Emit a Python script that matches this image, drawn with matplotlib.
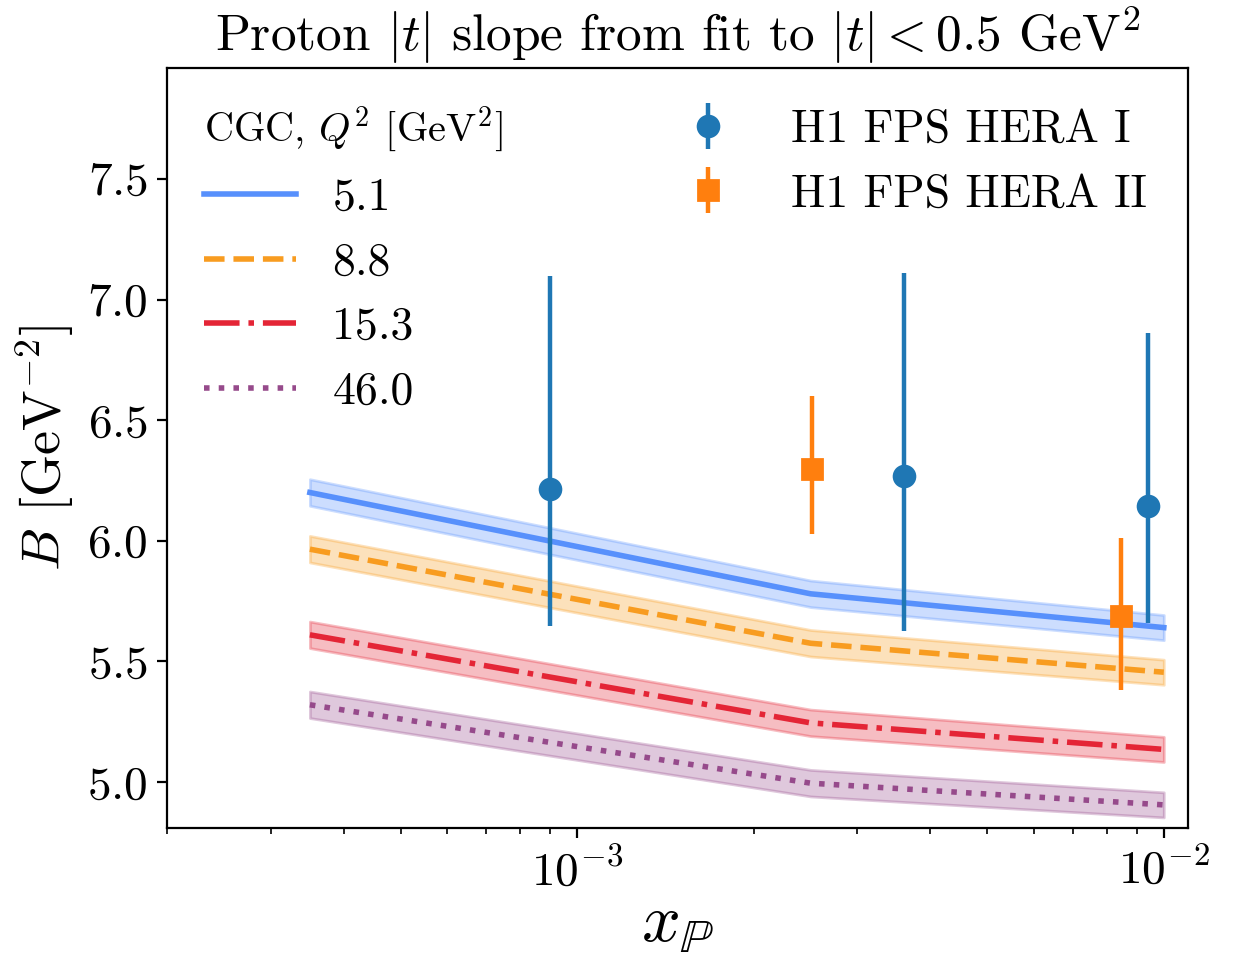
import numpy as np
import matplotlib
matplotlib.use("Agg")
import matplotlib.pyplot as plt

plt.rcParams['font.family'] = 'serif'
plt.rcParams['font.serif'] = ['cmr10']
plt.rcParams['mathtext.fontset'] = 'cm'
plt.rcParams['axes.formatter.use_mathtext'] = True
plt.rcParams['axes.unicode_minus'] = False

# CGC curves: x_P grid and B values for each Q^2
x_cgc = [3.5e-4, 2.5e-3, 1.0e-2]
q2_labels = ['5.1', '8.8', '15.3', '46.0']
B_q2_5p1 = [6.20, 5.78, 5.64]
B_q2_8p8 = [5.965, 5.575, 5.455]
B_q2_15p3 = [5.61, 5.245, 5.135]
B_q2_46p0 = [5.32, 4.995, 4.905]
band_err = [0.055, 0.055, 0.052]

# H1 FPS data
x_hera1 = [9.0e-4, 3.6e-3, 9.4e-3]
B_hera1 = [6.215, 6.267, 6.145]
B_hera1_up = [7.098, 7.108, 6.863]
B_hera1_dn = [5.647, 5.624, 5.660]

x_hera2 = [2.51e-3, 8.47e-3]
B_hera2 = [6.297, 5.686]
B_hera2_up = [6.598, 6.010]
B_hera2_dn = [6.027, 5.380]

colors = ["#5790fc", "#f89c20", "#e42536", "#964a8b"]
styles = ['-', '--', '-.', ':']

fig, ax = plt.subplots(figsize=(6.175, 4.785), dpi=200)
fig.subplots_adjust(left=0.1355, right=0.962, top=0.929, bottom=0.135)

curve_lines = []
for B, lab, c, ls in zip([B_q2_5p1, B_q2_8p8, B_q2_15p3, B_q2_46p0], q2_labels, colors, styles):
    B = np.array(B)
    e = np.array(band_err)
    ax.fill_between(x_cgc, B - e, B + e, color=c, alpha=0.3)
    ln, = ax.plot(x_cgc, B, ls, color=c, lw=2, label=lab)
    curve_lines.append(ln)

h1 = ax.errorbar(x_hera1, B_hera1,
                 yerr=[np.array(B_hera1) - np.array(B_hera1_dn), np.array(B_hera1_up) - np.array(B_hera1)],
                 fmt='o', color='tab:blue', ms=7.5, elinewidth=1.6, capsize=0, label='H1 FPS HERA I')
h2 = ax.errorbar(x_hera2, B_hera2,
                 yerr=[np.array(B_hera2) - np.array(B_hera2_dn), np.array(B_hera2_up) - np.array(B_hera2)],
                 fmt='s', color='tab:orange', ms=7.5, elinewidth=1.6, capsize=0, label='H1 FPS HERA II')

ax.set_xscale('log')
ax.set_xlim(2.0e-4, 1.1e-2)
ax.set_ylim(4.81, 7.96)
ax.set_yticks([5.0, 5.5, 6.0, 6.5, 7.0, 7.5])
ax.tick_params(labelsize=17)

ax.set_xlabel(r'$x_{\mathbb{P}}$', fontsize=24.5, labelpad=0)
ax.set_ylabel(r'$B$ [GeV$^{-2}$]', fontsize=19.5)
ax.set_title(r'Proton $|t|$ slope from fit to $|t|<0.5$ GeV$^2$', fontsize=18.5, pad=6)

leg1 = ax.legend(handles=curve_lines, loc='upper left', frameon=False, fontsize=16.5,
                 title=r'CGC, $Q^2$ [GeV$^2$]', title_fontsize=14.5, alignment='left',
                 borderpad=0.3)
ax.add_artist(leg1)
ax.legend(handles=[h1, h2], loc='upper right', frameon=False, fontsize=16.5)

fig.savefig('out.png', dpi=200)
